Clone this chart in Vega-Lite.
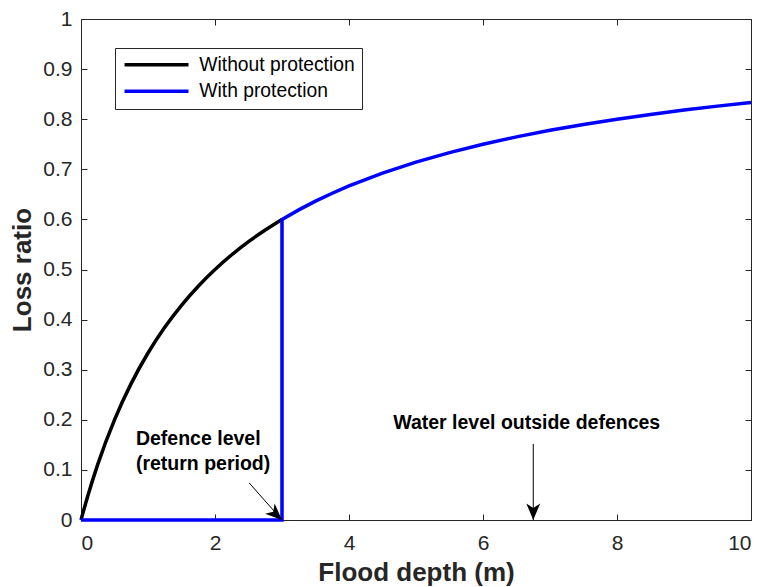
{
  "$schema": "https://vega.github.io/schema/vega-lite/v6.json",
  "width": 670,
  "height": 501,
  "autosize": {"type": "none"},
  "padding": {"left": 81, "top": 19, "right": 15, "bottom": 67},
  "background": "white",
  "config": {
    "view": {"stroke": "#262626", "strokeWidth": 1},
    "font": "Liberation Sans",
    "axis": {
      "labelFont": "Liberation Sans",
      "labelFontSize": 21,
      "labelColor": "#262626",
      "tickColor": "#262626",
      "domainColor": "#262626",
      "tickSize": 6,
      "tickWidth": 1,
      "grid": false,
      "titleFont": "Liberation Sans",
      "titleFontSize": 26,
      "titleFontWeight": "bold",
      "titleColor": "#262626"
    }
  },
  "datasets": {
    "without": [
      {"depth": 0, "loss": 0},
      {"depth": 0.1, "loss": 0.0476},
      {"depth": 0.25, "loss": 0.1111},
      {"depth": 0.5, "loss": 0.2},
      {"depth": 0.75, "loss": 0.2727},
      {"depth": 1, "loss": 0.3333},
      {"depth": 1.25, "loss": 0.3846},
      {"depth": 1.5, "loss": 0.4286},
      {"depth": 1.75, "loss": 0.4667},
      {"depth": 2, "loss": 0.5},
      {"depth": 2.25, "loss": 0.5294},
      {"depth": 2.5, "loss": 0.5556},
      {"depth": 2.75, "loss": 0.5789},
      {"depth": 3, "loss": 0.6}
    ],
    "with": [
      {"i": 0, "depth": 0, "loss": 0},
      {"i": 1, "depth": 3, "loss": 0},
      {"i": 2, "depth": 3, "loss": 0.6},
      {"i": 3, "depth": 3.25, "loss": 0.619},
      {"i": 4, "depth": 3.5, "loss": 0.6364},
      {"i": 5, "depth": 3.75, "loss": 0.6522},
      {"i": 6, "depth": 4, "loss": 0.6667},
      {"i": 7, "depth": 4.5, "loss": 0.6923},
      {"i": 8, "depth": 5, "loss": 0.7143},
      {"i": 9, "depth": 5.5, "loss": 0.7333},
      {"i": 10, "depth": 6, "loss": 0.75},
      {"i": 11, "depth": 6.5, "loss": 0.7647},
      {"i": 12, "depth": 7, "loss": 0.7778},
      {"i": 13, "depth": 7.5, "loss": 0.7895},
      {"i": 14, "depth": 8, "loss": 0.8},
      {"i": 15, "depth": 8.5, "loss": 0.8095},
      {"i": 16, "depth": 9, "loss": 0.8182},
      {"i": 17, "depth": 9.5, "loss": 0.8261},
      {"i": 18, "depth": 10, "loss": 0.8333}
    ],
    "labels": [
      {"x": 0.82, "y": 0.162, "text": "Defence level"},
      {"x": 0.82, "y": 0.112, "text": "(return period)"},
      {"x": 4.66, "y": 0.194, "text": "Water level outside defences"}
    ],
    "arrows": [
      {"x": 2.51, "y": 0.074, "x2": 3, "y2": 0},
      {"x": 6.75, "y": 0.152, "x2": 6.75, "y2": 0}
    ],
    "heads": [
      {"x": 3, "y": 0, "angle": 313},
      {"x": 6.75, "y": 0, "angle": 0}
    ]
  },
  "resolve": {"axis": {"x": "independent", "y": "independent"}},
  "layer": [
    {
      "data": {"name": "without"},
      "mark": {"type": "line", "strokeWidth": 3.5, "interpolate": "monotone"},
      "encoding": {
        "x": {"field": "depth", "type": "quantitative", "scale": {"domain": [0, 10], "nice": false},
          "axis": {"values": [0, 2, 4, 6, 8, 10], "title": "Flood depth (m)", "ticks": false, "labelPadding": 12, "titlePadding": 6}},
        "y": {"field": "loss", "type": "quantitative", "scale": {"domain": [0, 1], "nice": false},
          "axis": {"values": [0, 0.1, 0.2, 0.3, 0.4, 0.5, 0.6, 0.7, 0.8, 0.9, 1], "format": "~g", "title": "Loss ratio", "ticks": false, "labelPadding": 9, "titlePadding": 7}},
        "color": {"datum": "Without protection", "type": "nominal",
          "scale": {"domain": ["Without protection", "With protection"], "range": ["#000000", "#0000ff"]},
          "legend": {
            "title": null,
            "orient": "none",
            "legendX": 34,
            "legendY": 29,
            "direction": "vertical",
            "strokeColor": "#262626",
            "fillColor": "white",
            "padding": 7,
            "symbolType": "M-1,0H8",
            "symbolSize": 202,
            "symbolStrokeWidth": 3.5,
            "labelOffset": 58,
            "labelFont": "Liberation Sans",
            "labelFontSize": 19.3,
            "labelColor": "#000000",
            "rowPadding": 6.5
          }
        }
      }
    },
    {
      "data": {"name": "with"},
      "mark": {"type": "line", "strokeWidth": 3.5},
      "encoding": {
        "x": {"field": "depth", "type": "quantitative", "axis": null},
        "y": {"field": "loss", "type": "quantitative", "axis": null},
        "order": {"field": "i", "type": "quantitative"},
        "color": {"datum": "With protection", "type": "nominal"}
      }
    },
    {
      "data": {"name": "arrows"},
      "mark": {"type": "rule", "color": "#000000", "strokeWidth": 1},
      "encoding": {
        "x": {"field": "x", "type": "quantitative",
          "axis": {"orient": "top", "offset": -501, "values": [0, 2, 4, 6, 8, 10], "labels": false, "domain": false, "title": null}},
        "y": {"field": "y", "type": "quantitative",
          "axis": {"orient": "right", "offset": -670, "values": [0, 0.1, 0.2, 0.3, 0.4, 0.5, 0.6, 0.7, 0.8, 0.9, 1], "labels": false, "domain": false, "title": null}},
        "x2": {"field": "x2"},
        "y2": {"field": "y2"}
      }
    },
    {
      "data": {"name": "heads"},
      "mark": {"type": "point", "filled": true, "color": "#000000", "opacity": 1, "size": 1100, "shape": "M0,0L-0.42,-1L0,-0.72L0.42,-1Z"},
      "encoding": {
        "x": {"field": "x", "type": "quantitative",
          "axis": {"orient": "bottom", "offset": -501, "values": [0, 2, 4, 6, 8, 10], "labels": false, "domain": false, "title": null}},
        "y": {"field": "y", "type": "quantitative",
          "axis": {"orient": "left", "offset": -670, "values": [0, 0.1, 0.2, 0.3, 0.4, 0.5, 0.6, 0.7, 0.8, 0.9, 1], "labels": false, "domain": false, "title": null}},
        "angle": {"field": "angle", "type": "quantitative", "scale": null}
      }
    },
    {
      "data": {"name": "labels"},
      "mark": {"type": "text", "align": "left", "baseline": "middle", "font": "Liberation Sans", "fontSize": 19.5, "fontWeight": "bold", "color": "#000000"},
      "encoding": {
        "x": {"field": "x", "type": "quantitative", "axis": null},
        "y": {"field": "y", "type": "quantitative", "axis": null},
        "text": {"field": "text"}
      }
    }
  ]
}
